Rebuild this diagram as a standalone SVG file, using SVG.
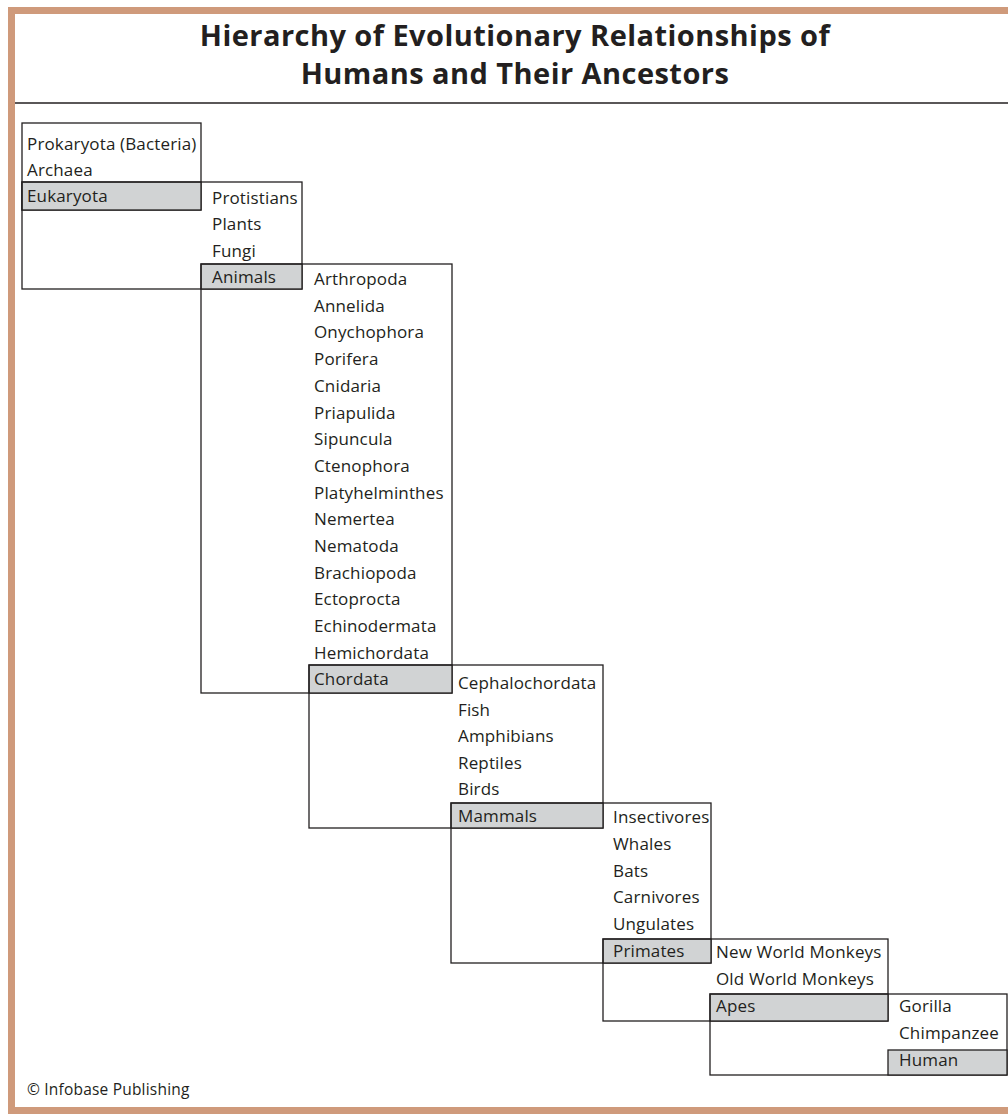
<svg xmlns="http://www.w3.org/2000/svg" width="1008" height="1114" viewBox="0 0 1008 1114">
<style>
.bx{fill:none;stroke:#231f20;stroke-width:1.3}
.hl{fill:#d1d3d4;stroke:#231f20;stroke-width:1.3}
.t{font-family:"Open Sans","Liberation Sans",sans-serif;font-size:17px;letter-spacing:0.15px;fill:#231f20}
.ti{font-family:"Open Sans","Liberation Sans",sans-serif;font-size:29px;letter-spacing:0.45px;font-weight:bold;fill:#231f20;text-anchor:middle}
.cp{font-family:"Open Sans","Liberation Sans",sans-serif;font-size:15.5px;letter-spacing:0.2px;fill:#231f20}
</style>
<rect x="0" y="0" width="1008" height="1114" fill="#fff"/>
<g id="frame">
<rect x="8" y="7" width="1000" height="7" fill="#cf9a7b"/>
<rect x="8" y="7" width="7" height="1107" fill="#cf9a7b"/>
<rect x="8" y="1107" width="1000" height="7" fill="#cf9a7b"/>
<line x1="15" y1="103" x2="1008" y2="103" stroke="#231f20" stroke-width="1.5"/>
</g>
<g id="title">
<text class="ti" x="515" y="46">Hierarchy of Evolutionary Relationships of</text>
<text class="ti" x="515" y="84">Humans and Their Ancestors</text>
</g>
<g id="connectors"></g>
<g id="level-domains">
<rect class="bx" x="22" y="123" width="179" height="87"/>
<rect class="hl" x="22" y="182" width="179" height="28"/>
<text class="t" x="27" y="150">Prokaryota (Bacteria)</text>
<text class="t" x="27" y="176">Archaea</text>
<text class="t" x="27" y="202">Eukaryota</text>
</g>
<g id="level-kingdoms">
<rect class="bx" x="22" y="182" width="280" height="107"/>
<rect class="hl" x="201" y="264" width="101" height="25"/>
<text class="t" x="212" y="204">Protistians</text>
<text class="t" x="212" y="230">Plants</text>
<text class="t" x="212" y="257">Fungi</text>
<text class="t" x="212" y="283">Animals</text>
</g>
<g id="level-phyla">
<rect class="bx" x="201" y="264" width="251" height="429"/>
<rect class="hl" x="309" y="665" width="143" height="28"/>
<text class="t" x="314" y="285">Arthropoda</text>
<text class="t" x="314" y="311.7">Annelida</text>
<text class="t" x="314" y="338.4">Onychophora</text>
<text class="t" x="314" y="365.1">Porifera</text>
<text class="t" x="314" y="391.8">Cnidaria</text>
<text class="t" x="314" y="418.5">Priapulida</text>
<text class="t" x="314" y="445.2">Sipuncula</text>
<text class="t" x="314" y="471.9">Ctenophora</text>
<text class="t" x="314" y="498.6">Platyhelminthes</text>
<text class="t" x="314" y="525.3">Nemertea</text>
<text class="t" x="314" y="552">Nematoda</text>
<text class="t" x="314" y="578.7">Brachiopoda</text>
<text class="t" x="314" y="605.4">Ectoprocta</text>
<text class="t" x="314" y="632.1">Echinodermata</text>
<text class="t" x="314" y="658.8">Hemichordata</text>
<text class="t" x="314" y="685">Chordata</text>
</g>
<g id="level-chordates">
<rect class="bx" x="309" y="665" width="294" height="163"/>
<rect class="hl" x="451" y="803" width="152" height="25"/>
<text class="t" x="458" y="689">Cephalochordata</text>
<text class="t" x="458" y="715.5">Fish</text>
<text class="t" x="458" y="742">Amphibians</text>
<text class="t" x="458" y="768.5">Reptiles</text>
<text class="t" x="458" y="795">Birds</text>
<text class="t" x="458" y="822">Mammals</text>
</g>
<g id="level-mammals">
<rect class="bx" x="451" y="803" width="260" height="160"/>
<rect class="hl" x="603" y="939" width="108" height="24"/>
<text class="t" x="613" y="823">Insectivores</text>
<text class="t" x="613" y="850">Whales</text>
<text class="t" x="613" y="876.5">Bats</text>
<text class="t" x="613" y="903">Carnivores</text>
<text class="t" x="613" y="930">Ungulates</text>
<text class="t" x="613" y="957">Primates</text>
</g>
<g id="level-primates">
<rect class="bx" x="603" y="939" width="285" height="82"/>
<rect class="hl" x="710" y="994" width="178" height="27"/>
<text class="t" x="716" y="958">New World Monkeys</text>
<text class="t" x="716" y="985">Old World Monkeys</text>
<text class="t" x="716" y="1012">Apes</text>
</g>
<g id="level-apes">
<rect class="bx" x="710" y="994" width="297" height="81"/>
<rect class="hl" x="888" y="1050" width="119" height="25"/>
<text class="t" x="899" y="1012">Gorilla</text>
<text class="t" x="899" y="1039">Chimpanzee</text>
<text class="t" x="899" y="1066">Human</text>
</g>
<g id="credit">
<text class="cp" x="27" y="1095">© Infobase Publishing</text>
</g>
</svg>
